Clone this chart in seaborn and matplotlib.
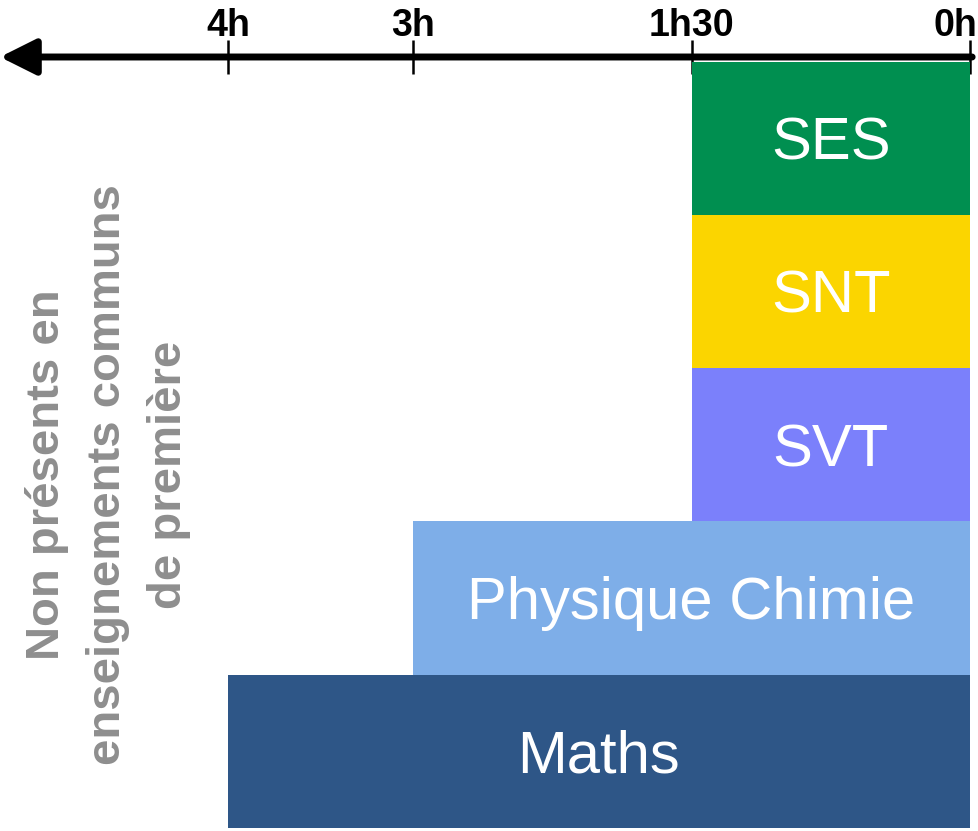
import matplotlib
matplotlib.use("Agg")
import matplotlib.pyplot as plt
import matplotlib.transforms as mtransforms
import seaborn as sns
import pandas as pd

# data
subjects = ["SES", "SNT", "SVT", "Physique Chimie", "Maths"]
hours = [1.5, 1.5, 1.5, 3, 4]
colors = ["#008F50", "#FBD500", "#7B80FB", "#7EAEE8", "#2E5687"]
tick_vals = [4, 3, 1.5, 0]
tick_labels = ["4h", "3h", "1h30", "0h"]
side_note = "Non présents en\nenseignements communs\nde première"

df = pd.DataFrame({"matiere": subjects, "heures": hours})

sns.set_theme(style="white")
plt.rcParams["font.family"] = ["Liberation Sans", "DejaVu Sans"]

fig = plt.figure(figsize=(9.79, 8.31), dpi=100)
ax = fig.add_axes([0.0, 0.0, 1.0, 1 - 57 / 831])

sns.barplot(data=df, x="heures", y="matiere", hue="matiere", palette=colors,
            orient="h", width=1.0, legend=False, ax=ax, linewidth=0,
            saturation=1)

ax.set_xlim(5.23, -0.05)
ax.set_ylim(4.52, -0.53)

# labels inside bars (cap centre on bar centre)
for i, (s, h) in enumerate(zip(subjects, hours)):
    ax.text(h / 2, i + 0.14, s, ha="center", va="baseline", color="white",
            fontsize=43)

# axis with arrow on top
for sp in ax.spines.values():
    sp.set_visible(False)
ax.annotate("", xy=(0.0, 1.0), xytext=(0.993, 1.0), xycoords="axes fraction",
            arrowprops=dict(arrowstyle="-|>", lw=5, color="black",
                            mutation_scale=55, shrinkA=0, shrinkB=0))

ax.xaxis.tick_top()
ax.set_xticks(tick_vals)
ax.set_xticklabels(tick_labels, fontsize=27, fontweight="bold", color="black")
ax.tick_params(axis="x", direction="inout", length=24, width=1.8,
               color="black", pad=-3, top=True, bottom=False)
# last label sits against the right edge
last = ax.get_xticklabels()[-1]
last.set_transform(last.get_transform() +
                   mtransforms.ScaledTranslation(-14 / 100, 0, fig.dpi_scale_trans))
ax.set_yticks([])
ax.set_xlabel("")
ax.set_ylabel("")

ax.text(108 / 979, 1 - (475 - 57) / (831 - 57), side_note, transform=ax.transAxes,
        rotation=90, ha="center", va="center", ma="center", color="#8E8E8E",
        fontsize=34, fontweight="bold", linespacing=1.5)

plt.savefig("out.png", dpi=100)
